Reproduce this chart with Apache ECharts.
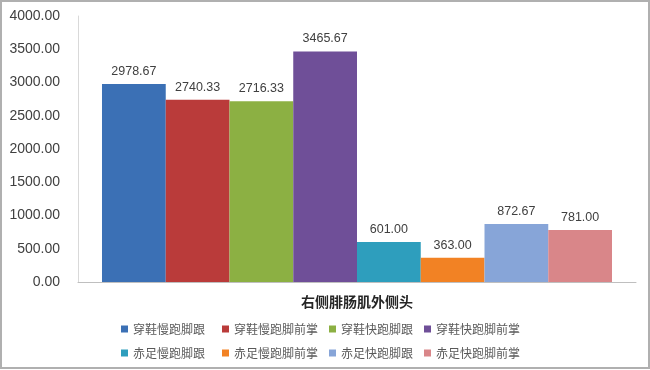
<!DOCTYPE html>
<html><head><meta charset="utf-8">
<script src="https://cdn.jsdelivr.net/npm/echarts@6/dist/echarts.min.js"></script>
<style>html,body{margin:0;padding:0;background:#fff}#c{width:650px;height:370px}</style>
</head><body><div id="c"></div>
<script>
const categories = ['右侧腓肠肌外侧头'];
const seriesNames = ['穿鞋慢跑脚跟','穿鞋慢跑脚前掌','穿鞋快跑脚跟','穿鞋快跑脚前掌','赤足慢跑脚跟','赤足慢跑脚前掌','赤足快跑脚跟','赤足快跑脚前掌'];
const seriesValues = [2978.67, 2740.33, 2716.33, 3465.67, 601.00, 363.00, 872.67, 781.00];
const colors = ['#3B70B5','#BA3B3A','#8CB043','#6F4F98','#2E9EBD','#F28224','#87A5D8','#D98689'];
const yTicks = [0, 500, 1000, 1500, 2000, 2500, 3000, 3500, 4000];

const legendPos = [[116,318],[217,318],[324,318],[419,318],[116,342],[217,342],[324,342],[419,342]];
const fontCN = '"Noto Sans CJK SC", "Liberation Sans", sans-serif';

const chart = echarts.init(document.getElementById('c'));
chart.setOption({
  animation: false,
  backgroundColor: '#fff',
  color: colors,
  grid: {left: 78, right: 14, top: 16, bottom: 88},
  xAxis: {
    type: 'category', data: categories,
    axisLine: {lineStyle: {color: '#BFBFBF'}},
    axisTick: {show: false},
    axisLabel: {color: '#262626', fontWeight: 'bold', fontSize: 14, fontFamily: fontCN, margin: 13}
  },
  yAxis: {
    type: 'value', min: yTicks[0], max: yTicks[yTicks.length-1], interval: 500,
    axisLine: {show: true, lineStyle: {color: '#D9D9D9'}},
    axisTick: {show: false},
    splitLine: {show: false},
    axisLabel: {color: '#404040', fontSize: 14, fontFamily: '"Liberation Sans", sans-serif', margin: 18,
      formatter: v => v.toFixed(2)}
  },
  legend: seriesNames.map((n, i) => ({
    data: [n], left: legendPos[i][0], top: legendPos[i][1],
    itemWidth: 7, itemHeight: 7, icon: 'rect', itemGap: 0,
    textStyle: {color: '#595959', fontSize: 12, fontFamily: fontCN}
  })),
  series: seriesNames.map((n, i) => ({
    name: n, type: 'bar', data: [seriesValues[i]],
    barGap: '0%', barCategoryGap: '8.6%',
    itemStyle: {color: colors[i]},
    label: {show: true, position: 'top', distance: 6, color: '#404040', fontSize: 12.5,
      fontFamily: '"Liberation Sans", sans-serif', formatter: p => p.value.toFixed(2)}
  })),
  graphic: [{type: 'rect', shape: {x: 1, y: 1, width: 648, height: 367},
    style: {fill: 'none', stroke: '#B0B0B0', lineWidth: 2}, silent: true}]
});
</script></body></html>
